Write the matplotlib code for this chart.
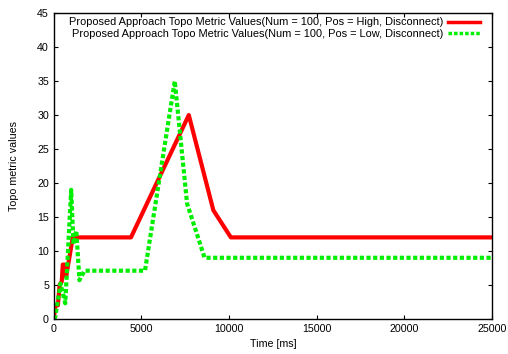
import matplotlib
matplotlib.use('Agg')
import matplotlib.pyplot as plt

plt.rcParams['font.family'] = ['Liberation Sans', 'DejaVu Sans']

# series
high_t = [0, 80, 230, 330, 450, 510, 610, 700, 1080, 4400, 7700, 9100, 10100, 25000]
high_v = [0, 2, 2, 5, 5.5, 8, 8, 6.2, 12, 12, 30, 16, 12, 12]
low_t = [0, 80, 380, 650, 990, 1120, 1280, 1460, 1750, 5200, 6900, 7600, 8600, 25000]
low_v = [0, 0.3, 5.2, 2.3, 19, 11, 13, 5.7, 7.1, 7.1, 35, 17, 9, 9]

labels = ['Proposed Approach Topo Metric Values(Num = 100, Pos = High, Disconnect)',
          'Proposed Approach Topo Metric Values(Num = 100, Pos = Low, Disconnect)']

fig = plt.figure(figsize=(5.08, 3.54), dpi=100)
ax = fig.add_axes([0.106, 0.099, 0.8625, 0.864])
ax.plot(high_t, high_v, color='#ff0000', linewidth=3, label=labels[0])
ax.plot(low_t, low_v, color='#00ee00', linewidth=3, linestyle=(0, (1, 0.6)), label=labels[1])

ax.set_xlim(0, 25000)
ax.set_ylim(0, 45)
ax.set_xticks(range(0, 25001, 5000))
ax.set_yticks(range(0, 46, 5))
ax.tick_params(direction='in', top=True, right=True, labelsize=7.7, length=3)
ax.set_xlabel('Time [ms]', fontsize=7.7, labelpad=4)
ax.set_ylabel('Topo metric values', fontsize=7.7, labelpad=13)
for s in ax.spines.values():
    s.set_linewidth(1)

leg = ax.legend(loc='upper right', bbox_to_anchor=(0.983, 1.0), markerfirst=False,
                frameon=False, fontsize=7.9, handlelength=2.9, labelspacing=0.1,
                borderaxespad=0.0, handletextpad=0.45)
for h in leg.get_lines():
    h.set_linewidth(2.5)

fig.savefig('out.png', dpi=100)
